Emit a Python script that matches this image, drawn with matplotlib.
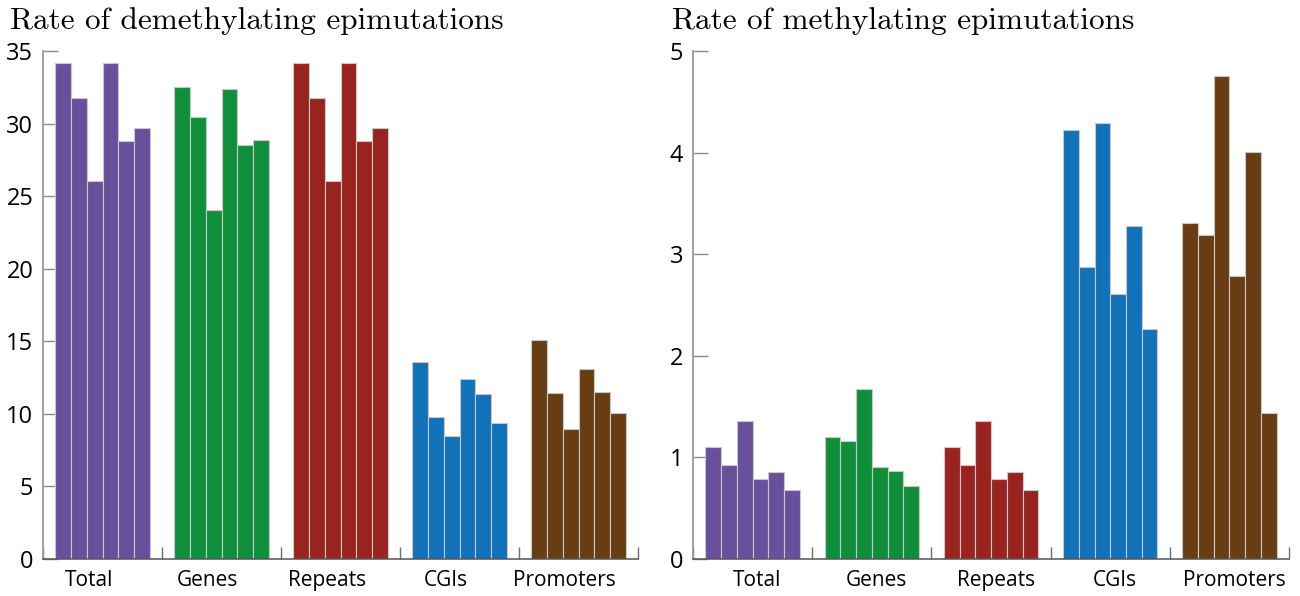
import matplotlib.pyplot as plt
import numpy as np

# demethylating / methylating epimutation rates, six samples per genomic context
CATEGORIES = ["Total", "Genes", "Repeats", "CGIs", "Promoters"]
COLORS = ["#6a509c", "#108f3a", "#99241f", "#1272b9", "#683d14"]

DEMETH = [
    [34.15, 31.74, 26.06, 34.15, 28.80, 29.72],
    [32.54, 30.48, 24.07, 32.38, 28.55, 28.85],
    [34.15, 31.74, 26.06, 34.15, 28.80, 29.72],
    [13.59, 9.76, 8.50, 12.38, 11.35, 9.37],
    [15.09, 11.42, 8.94, 13.09, 11.49, 10.04],
]
METH = [
    [1.099, 0.928, 1.358, 0.787, 0.853, 0.679],
    [1.198, 1.158, 1.673, 0.906, 0.866, 0.715],
    [1.102, 0.928, 1.355, 0.787, 0.853, 0.676],
    [4.222, 2.877, 4.291, 2.605, 3.274, 2.264],
    [3.304, 3.186, 4.754, 2.785, 4.003, 1.434],
]

TITLE_FONT = "cmr10"
TICK_FONT = ["Open Sans", "DejaVu Sans"]
BAR_W = 0.132


def draw_panel(ax, data, ymax, yticks, label_shift):
    n = len(data[0])
    offsets = (np.arange(n) - (n - 1) / 2) * BAR_W
    for i, (vals, color) in enumerate(zip(data, COLORS)):
        ax.bar(i + 0.5 + offsets, vals, width=BAR_W, color=color,
               edgecolor="#c8c8c8", linewidth=0.8, zorder=2)

    ax.set_xlim(0, len(CATEGORIES))
    ax.set_ylim(0, ymax)
    ax.set_yticks(yticks)
    # group separators as major ticks, category names on unmarked minor ticks
    ax.set_xticks(np.arange(len(CATEGORIES) + 1))
    ax.set_xticklabels([])
    ax.set_xticks(np.arange(len(CATEGORIES)) + 0.5 + label_shift, minor=True)
    ax.set_xticklabels(CATEGORIES, minor=True)

    ax.tick_params(axis="y", direction="in", length=11, width=1.0,
                   color="#8a8a8a", pad=7, labelsize=17)
    ax.tick_params(axis="x", which="major", direction="in", length=9,
                   width=1.0, color="#707070")
    ax.tick_params(axis="x", which="minor", length=0, pad=8, labelsize=15)
    for lab in ax.get_yticklabels() + ax.get_xticklabels(minor=True):
        lab.set_family(TICK_FONT)

    for side in ("top", "right"):
        ax.spines[side].set_visible(False)
    ax.spines["left"].set_color("#9a9a9a")
    ax.spines["left"].set_linewidth(1.3)
    ax.spines["bottom"].set_color("#555555")
    ax.spines["bottom"].set_linewidth(1.1)


fig = plt.figure(figsize=(13, 5.96), dpi=100)
ax1 = fig.add_axes([0.0331, 0.0621, 0.4577, 0.8523])
ax2 = fig.add_axes([0.5331, 0.0621, 0.4585, 0.8523])

draw_panel(ax1, DEMETH, 35, np.arange(0, 36, 5), -0.115)
draw_panel(ax2, METH, 5, np.arange(0, 6, 1), 0.04)

fig.text(10 / 1300, 1 - 29 / 596, "Rate of demethylating epimutations",
         family=TITLE_FONT, fontsize=22.5, va="baseline", ha="left")
fig.text(672 / 1300, 1 - 29 / 596, "Rate of methylating epimutations",
         family=TITLE_FONT, fontsize=22.5, va="baseline", ha="left")

fig.savefig("out.png", dpi=100, facecolor="white")
